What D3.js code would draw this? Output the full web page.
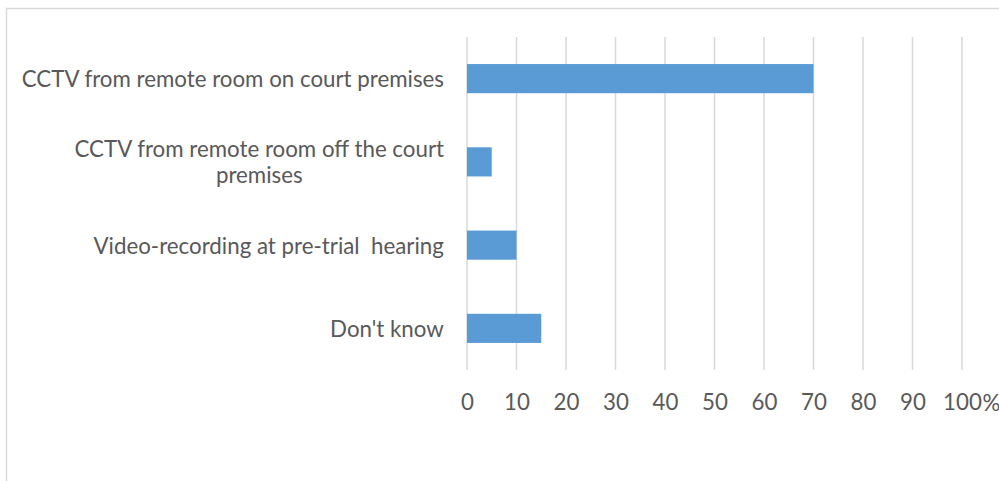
<!DOCTYPE html>
<html>
<head>
<meta charset="utf-8">
<script src="https://cdn.jsdelivr.net/npm/d3@7"></script>
<style>
  html, body { margin: 0; padding: 0; background: #fff; }
  svg { display: block; }
  text { font-family: Lato, "Open Sans", sans-serif; fill: #595959; }
</style>
</head>
<body>
<script>
const categories = [
  ["CCTV from remote room on court premises"],
  ["CCTV from remote room off the court", "premises"],
  ["Video-recording at pre-trial\u00a0 hearing"],
  ["Don't know"]
];
const values = [70, 5, 10, 15];
const tickValues = [0, 10, 20, 30, 40, 50, 60, 70, 80, 90, 100];
const unitLabel = "%";

const W = 999, H = 481;
const fontSize = 22.3;

const svg = d3.select("body").append("svg").attr("width", W).attr("height", H);
svg.append("rect").attr("width", W).attr("height", H).attr("fill", "#fff");

// chart border (extends beyond right and bottom edges)
svg.append("rect")
  .attr("x", 6.5).attr("y", 8.5)
  .attr("width", 1010).attr("height", 490)
  .attr("fill", "none").attr("stroke", "#d9d9d9").attr("stroke-width", 1.5);

const x = d3.scaleLinear().domain([0, 100]).range([467, 962]);
const ids = categories.map((c, i) => i);
const y = d3.scaleBand().domain(ids).range([37, 370]).paddingInner(0.65).paddingOuter(0.325);

// gridlines
svg.append("g").selectAll("line").data(tickValues).join("line")
  .attr("x1", d => x(d)).attr("x2", d => x(d))
  .attr("y1", 37).attr("y2", 370)
  .attr("stroke", "#d9d9d9").attr("stroke-width", 1.5);

// bars
svg.append("g").selectAll("rect").data(values).join("rect")
  .attr("x", x(0))
  .attr("y", (d, i) => y(i))
  .attr("width", d => x(d) - x(0))
  .attr("height", y.bandwidth())
  .attr("fill", "#5b9bd5");

// x axis tick labels
const xAxis = d3.axisBottom(x).tickValues(tickValues).tickSize(0).tickPadding(0);
const gx = svg.append("g").attr("transform", "translate(0,394)").call(xAxis);
gx.select(".domain").remove();
gx.selectAll("text")
  .attr("dy", "0.71em")
  .style("font-size", fontSize + "px")
  .style("font-family", "Lato, 'Open Sans', sans-serif")
  .attr("fill", "#595959");

// unit label placed right after the last tick label
const lastLabel = gx.selectAll("text").nodes().pop();
const lb = lastLabel.getBoundingClientRect();
svg.append("text")
  .attr("x", lb.right + 0.5).attr("y", 402)
  .attr("text-anchor", "start").attr("dominant-baseline", "central")
  .style("font-size", fontSize + "px")
  .text(unitLabel);

// category labels: block right-aligned at 444, lines centered within block
const labelRight = 444;
const lineH = 26;
const gy = svg.append("g");
categories.forEach((lines, i) => {
  const cy = y(i) + y.bandwidth() / 2;
  const t = gy.append("text")
    .style("font-size", fontSize + "px")
    .attr("text-anchor", "middle");
  lines.forEach((ln, j) => {
    t.append("tspan").attr("x", 0)
      .attr("y", cy + (j - (lines.length - 1) / 2) * lineH)
      .attr("dominant-baseline", "central")
      .text(ln);
  });
  const bw = t.node().getBBox().width;
  t.attr("transform", `translate(${labelRight - bw / 2},0)`);
});
</script>
</body>
</html>
